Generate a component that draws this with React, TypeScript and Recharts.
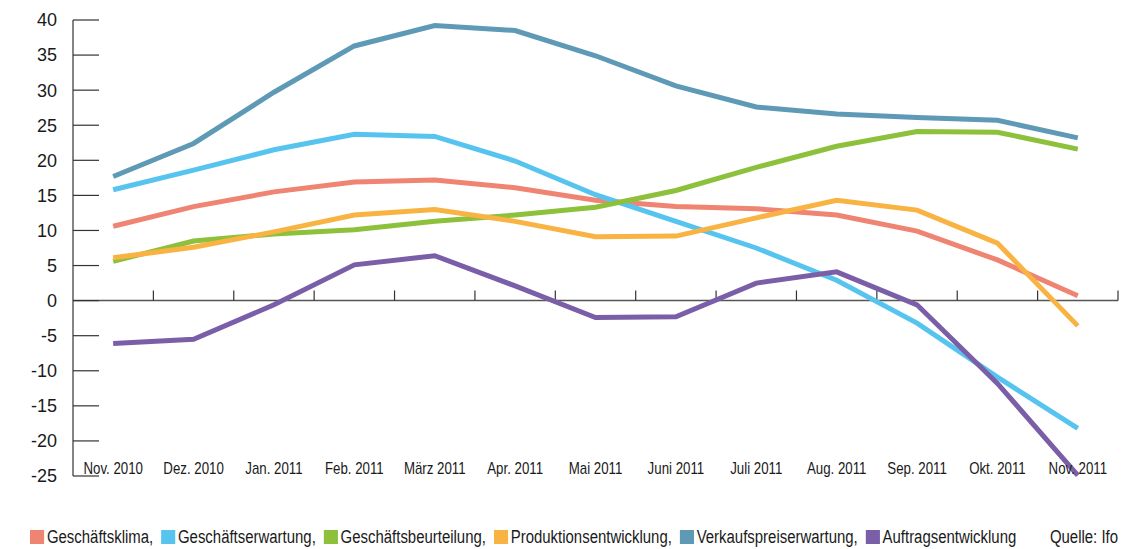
import { LineChart, Line, XAxis, YAxis, ReferenceLine } from "recharts";

const months = [
  "Nov. 2010", "Dez. 2010", "Jan. 2011", "Feb. 2011", "März 2011", "Apr. 2011", "Mai 2011",
  "Juni 2011", "Juli 2011", "Aug. 2011", "Sep. 2011", "Okt. 2011", "Nov. 2011",
];

const geschaeftsklima = [10.6, 13.4, 15.5, 16.9, 17.2, 16.1, 14.3, 13.4, 13.1, 12.2, 9.9, 5.8, 0.7];
const geschaeftserwartung = [15.8, 18.6, 21.5, 23.7, 23.4, 19.9, 15.1, 11.3, 7.5, 2.9, -3.2, -10.9, -18.2];
const geschaeftsbeurteilung = [5.6, 8.5, 9.5, 10.1, 11.3, 12.2, 13.3, 15.7, 19.0, 22.0, 24.1, 24.0, 21.6];
const produktion = [6.1, 7.6, 9.8, 12.2, 13.0, 11.3, 9.1, 9.2, 11.8, 14.3, 12.9, 8.2, -3.6];
const verkaufspreis = [17.7, 22.4, 29.7, 36.3, 39.2, 38.5, 34.9, 30.6, 27.6, 26.6, 26.1, 25.7, 23.2];
const auftrag = [-6.1, -5.5, -0.6, 5.1, 6.4, 2.1, -2.4, -2.3, 2.5, 4.1, -0.6, -11.8, -24.9];

const yTicks = [-25, -20, -15, -10, -5, 0, 5, 10, 15, 20, 25, 30, 35, 40];

const series = [
  { key: "klima", name: "Geschäftsklima", color: "#f08473", values: geschaeftsklima },
  { key: "erwartung", name: "Geschäftserwartung", color: "#57c4f0", values: geschaeftserwartung },
  { key: "beurteilung", name: "Geschäftsbeurteilung", color: "#8dc03b", values: geschaeftsbeurteilung },
  { key: "produktion", name: "Produktionsentwicklung", color: "#f9b343", values: produktion },
  { key: "preis", name: "Verkaufspreiserwartung", color: "#5e9ab5", values: verkaufspreis },
  { key: "auftrag", name: "Auftragsentwicklung", color: "#7a5fa8", values: auftrag },
];

const data = months.map((m, i) => {
  const row: any = { i, month: m };
  series.forEach((s) => {
    row[s.key] = s.values[i];
  });
  return row;
});

// band boundaries between months, ticks sit on the zero line
const boundaries = months.map((_, i) => i + 0.5);
const boundaryTick = 1.45;

const font = "'Liberation Sans', Arial, sans-serif";
const squeeze = 0.83; // the original uses a condensed face

const MonthTick = (props: any) => {
  const { x, y, payload } = props;
  return (
    <g transform={`translate(${x},${y}) scale(${squeeze},1)`}>
      <text x={0} y={0} dy={11.5} textAnchor="middle" fill="#1a1a1a" fontSize={16} fontFamily={font}>
        {months[payload.value]}
      </text>
    </g>
  );
};

export default function App() {
  return (
    <div style={{ position: "absolute", left: 0, top: 0, width: 1124, height: 549, background: "#fff" }}>
      <LineChart width={1124} height={500} data={data} margin={{ top: 20, right: 6, left: 0, bottom: 0 }}>
        <XAxis
          dataKey="i"
          type="number"
          domain={[-0.5, 12.5]}
          ticks={months.map((_, i) => i)}
          axisLine={false}
          tickLine={false}
          tickSize={0}
          tickMargin={-14}
          height={24}
          interval={0}
          tick={<MonthTick />}
        />
        <YAxis
          type="number"
          domain={[-25, 40]}
          ticks={yTicks}
          width={73}
          interval={0}
          axisLine={{ stroke: "#333", strokeWidth: 1.2 }}
          tickLine={{ stroke: "#333", strokeWidth: 1.2 }}
          tickSize={-26}
          tickMargin={42}
          tick={{ fill: "#1a1a1a", fontSize: 18, fontFamily: font }}
        />
        <ReferenceLine y={0} stroke="#555" strokeWidth={1.5} />
        {boundaries.map((b) => (
          <ReferenceLine
            key={b}
            segment={[
              { x: b, y: 0 },
              { x: b, y: boundaryTick },
            ]}
            stroke="#333"
            strokeWidth={1.2}
          />
        ))}
        {series.map((s) => (
          <Line
            key={s.key}
            dataKey={s.key}
            name={s.name}
            type="linear"
            stroke={s.color}
            strokeWidth={5}
            dot={false}
            activeDot={false}
            isAnimationActive={false}
          />
        ))}
      </LineChart>
      <div
        style={{
          position: "absolute",
          left: 30,
          top: 527,
          width: (1118 - 30) / squeeze,
          transform: `scaleX(${squeeze})`,
          transformOrigin: "left center",
          display: "flex",
          alignItems: "center",
          fontFamily: font,
          fontSize: 18,
          lineHeight: "20px",
          color: "#1a1a1a",
          whiteSpace: "nowrap",
        }}
      >
        {series.map((s, idx) => (
          <span key={s.key} style={{ display: "flex", alignItems: "center", marginRight: 9.5 }}>
            <span
              style={{
                width: 14 / squeeze,
                height: 14,
                background: s.color,
                display: "inline-block",
                marginRight: 3.5,
              }}
            />
            {s.name}
            {idx < series.length - 1 ? "," : ""}
          </span>
        ))}
        <span style={{ marginLeft: "auto" }}>Quelle: Ifo</span>
      </div>
    </div>
  );
}
